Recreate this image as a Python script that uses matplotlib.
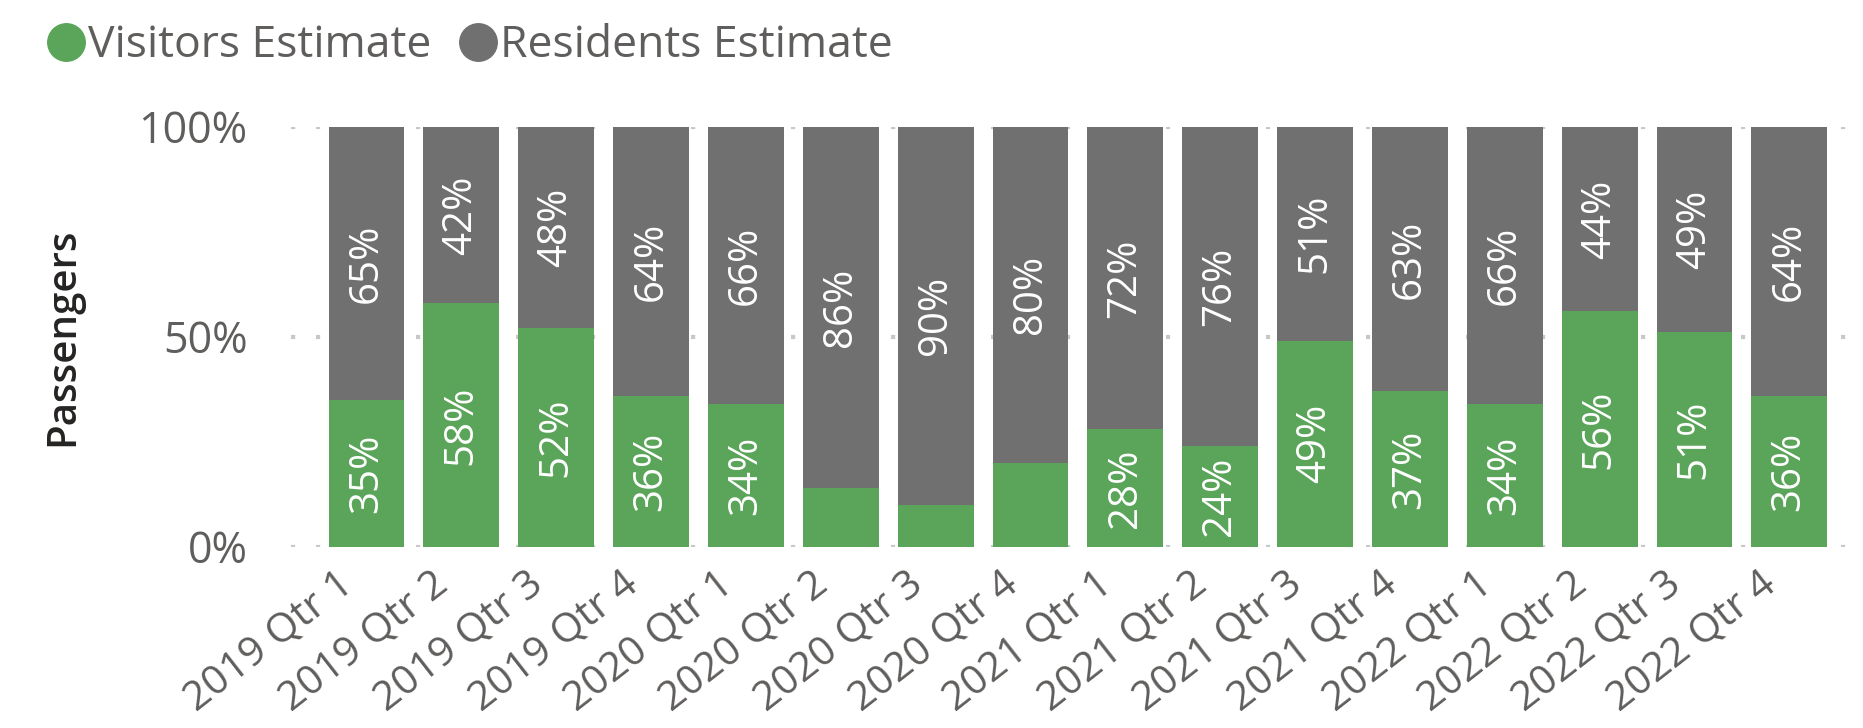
import matplotlib
matplotlib.use("Agg")
import matplotlib.pyplot as plt
import matplotlib.transforms as mtransforms
from matplotlib.lines import Line2D
import numpy as np

plt.rcParams['font.family'] = ['Open Sans', 'DejaVu Sans']

categories = ["2019 Qtr 1", "2019 Qtr 2", "2019 Qtr 3", "2019 Qtr 4",
              "2020 Qtr 1", "2020 Qtr 2", "2020 Qtr 3", "2020 Qtr 4",
              "2021 Qtr 1", "2021 Qtr 2", "2021 Qtr 3", "2021 Qtr 4",
              "2022 Qtr 1", "2022 Qtr 2", "2022 Qtr 3", "2022 Qtr 4"]
visitors = [35, 58, 52, 36, 34, 14, 10, 20, 28, 24, 49, 37, 34, 56, 51, 36]
residents = [65, 42, 48, 64, 66, 86, 90, 80, 72, 76, 51, 63, 66, 44, 49, 64]
yticks = [0, 50, 100]
ytick_labels = ["0%", "50%", "100%"]

GREEN = "#5AA55A"
GREY = "#707070"
TICK = "#605E5C"

fig = plt.figure(figsize=(18.63, 7.28), dpi=100)
ax = fig.add_axes([0.156, 0.249, 0.835, 0.577])

x = np.arange(len(categories))
w = 0.8
ax.bar(x, visitors, width=w, color=GREEN, zorder=2)
ax.bar(x, residents, width=w, bottom=visitors, color=GREY, zorder=2)

for i in range(len(categories)):
    v, r = visitors[i], residents[i]
    if v >= 22:
        ax.text(x[i], v / 2, f"{v}%", rotation=90, ha='center', va='center',
                color='white', fontsize=29, zorder=3)
    ax.text(x[i], v + r / 2, f"{r}%", rotation=90, ha='center', va='center',
            color='white', fontsize=29, zorder=3)

ax.set_xlim(-0.8, 15.6)
ax.set_ylim(0, 100)
ax.set_yticks(yticks)
ax.set_yticklabels(ytick_labels, fontsize=31, color=TICK)
ax.set_xticks(x)
ax.set_xticklabels(categories, fontsize=29.5, color=TICK, rotation=38,
                   ha='right', va='top', rotation_mode='anchor')
ax.tick_params(axis='both', length=0)
ax.tick_params(axis='x', pad=0)
ax.tick_params(axis='y', pad=31)
offset = mtransforms.ScaledTranslation(-0.30, -0.17, fig.dpi_scale_trans)
for lbl in ax.get_xticklabels():
    lbl.set_transform(lbl.get_transform() + offset)
for s in ax.spines.values():
    s.set_visible(False)
ax.yaxis.grid(True, color="#C8C8C8", linestyle=(0, (1, 5)), linewidth=3, zorder=1)
ax.set_axisbelow(True)
ax.set_ylabel("Passengers", fontsize=29, color="#252423", fontweight='semibold', labelpad=40)

handles = [Line2D([], [], marker='o', linestyle='', markersize=27, color=GREEN),
           Line2D([], [], marker='o', linestyle='', markersize=27, color=GREY)]
leg = fig.legend(handles, ["Visitors Estimate", "Residents Estimate"], loc='upper left',
                 bbox_to_anchor=(0.002, 1.022), ncol=2, frameon=False, fontsize=32,
                 handletextpad=0.0, columnspacing=0.55, handlelength=1.0)
for t in leg.get_texts():
    t.set_color(TICK)

fig.savefig("out.png", dpi=100)
